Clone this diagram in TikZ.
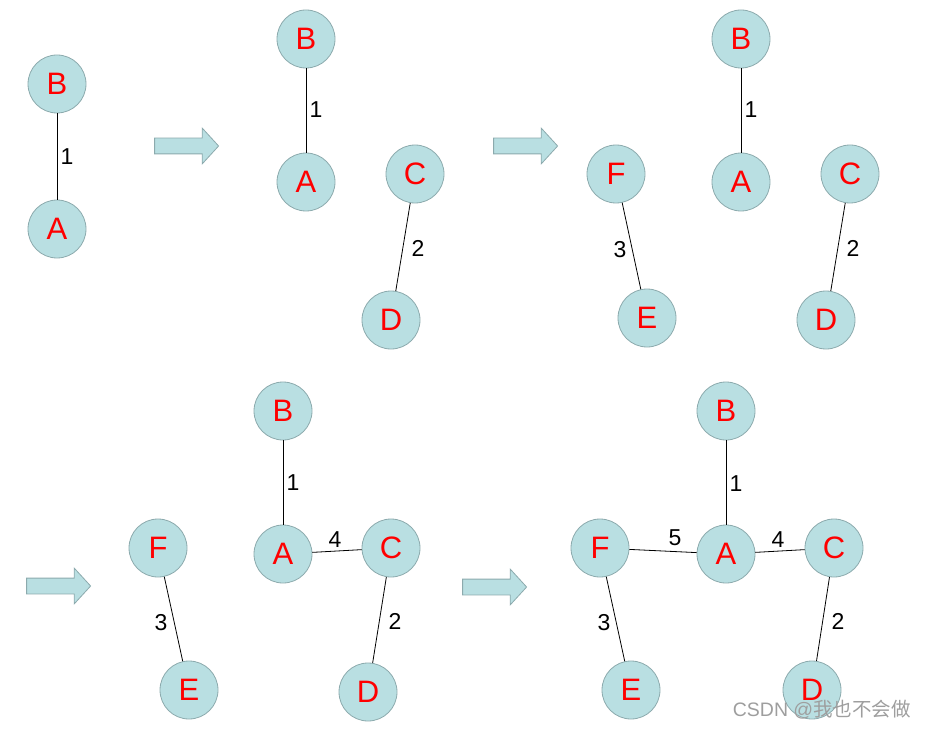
\documentclass[tikz,border=0pt]{standalone}
\usepackage{fontspec}
\setmainfont{Liberation Sans}
\newfontfamily\cjkfont{Noto Sans CJK SC}
\definecolor{KruskalFill}{HTML}{B9DFE2}
\definecolor{KruskalLine}{HTML}{8CAAAD}
\definecolor{KruskalMark}{HTML}{9E9E9E}
\usetikzlibrary{shapes.arrows}

\begin{document}
\begin{tikzpicture}[x=1pt,y=-1pt,
      vertex/.style={circle,draw=KruskalLine,fill=KruskalFill,line width=0.8pt,
                     minimum size=58pt,inner sep=0pt,text=red,
                     font=\fontsize{31}{31}\selectfont},
      weight/.style={font=\fontsize{23}{23}\selectfont,inner sep=0pt},
      link/.style={draw=black,line width=0.8pt},
      stage/.style={single arrow,draw=KruskalLine,fill=KruskalFill,line width=0.8pt,
                    minimum height=64pt,inner sep=7.5pt,single arrow head extend=10pt,
                    single arrow tip angle=95,anchor=center}]
    \useasboundingbox (0,0) rectangle (926,730);
    % stage 1
    \node[vertex] (b1) at (57,84) {B};
    \node[vertex] (a1) at (57,229) {A};
    \draw[link] (b1) -- (a1);
    \node[weight] (w1ab) at (67,157) {1};
    \node[stage] (s1) at (183,146) {};
    % stage 2
    \node[vertex] (b2) at (306,39) {B};
    \node[vertex] (a2) at (306,182) {A};
    \node[vertex] (c2) at (415,174) {C};
    \node[vertex] (d2) at (391,320) {D};
    \draw[link] (b2) -- (a2);
    \draw[link] (c2) -- (d2);
    \node[weight] (w2ab) at (316,110) {1};
    \node[weight] (w2cd) at (418,248) {2};
    \node[stage] (s2) at (522,146) {};
    % stage 3
    \node[vertex] (b3) at (741,39) {B};
    \node[vertex] (a3) at (741,182) {A};
    \node[vertex] (c3) at (850,174) {C};
    \node[vertex] (d3) at (826,320) {D};
    \node[vertex] (f3) at (616,174) {F};
    \node[vertex] (e3) at (647,318) {E};
    \draw[link] (b3) -- (a3);
    \draw[link] (c3) -- (d3);
    \draw[link] (f3) -- (e3);
    \node[weight] (w3ab) at (751,110) {1};
    \node[weight] (w3cd) at (853,248) {2};
    \node[weight] (w3fe) at (620,250) {3};
    \node[stage] (s3) at (55,586) {};
    % stage 4
    \node[vertex] (b4) at (283,411) {B};
    \node[vertex] (a4) at (283,554) {A};
    \node[vertex] (c4) at (391,548) {C};
    \node[vertex] (d4) at (368,692) {D};
    \node[vertex] (f4) at (158,548) {F};
    \node[vertex] (e4) at (189,690) {E};
    \draw[link] (b4) -- (a4);
    \draw[link] (c4) -- (d4);
    \draw[link] (f4) -- (e4);
    \draw[link] (a4) -- (c4);
    \node[weight] (w4ab) at (293,483) {1};
    \node[weight] (w4cd) at (395,621) {2};
    \node[weight] (w4fe) at (161,623) {3};
    \node[weight] (w4ac) at (335,540) {4};
    \node[stage] (s4) at (491,587) {};
    % stage 5
    \node[vertex] (b5) at (726,411) {B};
    \node[vertex] (a5) at (726,554) {A};
    \node[vertex] (c5) at (834,548) {C};
    \node[vertex] (d5) at (812,690) {D};
    \node[vertex] (f5) at (600,548) {F};
    \node[vertex] (e5) at (631,690) {E};
    \draw[link] (b5) -- (a5);
    \draw[link] (c5) -- (d5);
    \draw[link] (f5) -- (e5);
    \draw[link] (a5) -- (c5);
    \draw[link] (f5) -- (a5);
    \node[weight] (w5ab) at (736,484) {1};
    \node[weight] (w5cd) at (838,621) {2};
    \node[weight] (w5fe) at (604,623) {3};
    \node[weight] (w5ac) at (778,540) {4};
    \node[weight] (w5fa) at (675,538) {5};
    \node[text=KruskalMark,inner sep=0pt,anchor=east] (mark) at (911,710)
      {\fontsize{19.5}{19.5}\selectfont CSDN @\cjkfont 我也不会做};
\end{tikzpicture}
\end{document}
